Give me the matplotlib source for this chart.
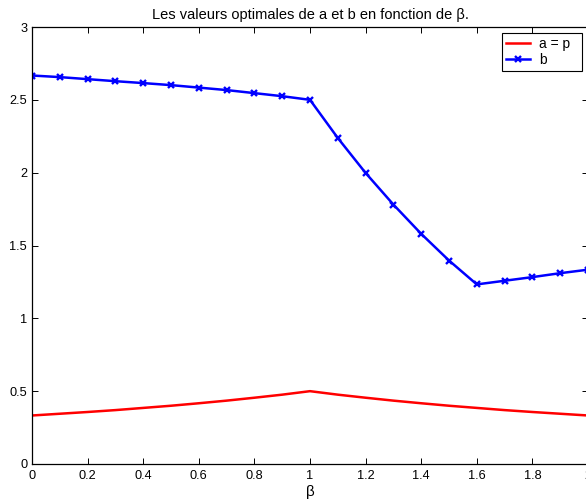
import numpy as np
import matplotlib
matplotlib.use("Agg")
import matplotlib.pyplot as plt

plt.rcParams['font.family'] = ['Liberation Sans', 'DejaVu Sans']

# beta sampled every 0.1 on [0, 2]
beta = [0.0, 0.1, 0.2, 0.3, 0.4, 0.5, 0.6, 0.7, 0.8, 0.9, 1.0,
        1.1, 1.2, 1.3, 1.4, 1.5, 1.6, 1.7, 1.8, 1.9, 2.0]

# optimal a (= p)
a_opt = [0.333, 0.345, 0.357, 0.370, 0.385, 0.400, 0.417, 0.435, 0.455, 0.476, 0.500,
         0.476, 0.455, 0.435, 0.417, 0.400, 0.385, 0.370, 0.357, 0.345, 0.333]

# optimal b
b_opt = [2.667, 2.656, 2.642, 2.628, 2.615, 2.601, 2.584, 2.567, 2.546, 2.525, 2.500,
         2.238, 1.998, 1.781, 1.580, 1.397, 1.233, 1.258, 1.283, 1.310, 1.334]

xticks = [0, 0.2, 0.4, 0.6, 0.8, 1, 1.2, 1.4, 1.6, 1.8, 2]
xticklabels = ['0', '0.2', '0.4', '0.6', '0.8', '1', '1.2', '1.4', '1.6', '1.8', '2']
yticks = [0, 0.5, 1, 1.5, 2, 2.5, 3]
yticklabels = ['0', '0.5', '1', '1.5', '2', '2.5', '3']

fig = plt.figure(figsize=(5.86, 5.04), dpi=100)
ax = fig.add_axes([32 / 586, 40 / 504, 556 / 586, 437 / 504])

ax.plot(beta, a_opt, color=(1, 0, 0), lw=1.8, label='a = p  ')
ax.plot(beta, b_opt, color=(0, 0, 1), lw=1.8, marker='x', ms=4.5, mew=1.7, label='b')

ax.set_xlim(0, 2)
ax.set_ylim(0, 3)
ax.set_xticks(xticks)
ax.set_xticklabels(xticklabels)
ax.set_yticks(yticks)
ax.set_yticklabels(yticklabels)
ax.tick_params(direction='in', length=4, width=0.7, labelsize=9.2,
               top=True, right=True)
ax.tick_params(axis='x', pad=4.5)
ax.tick_params(axis='y', pad=3.5)
for sp in ax.spines.values():
    sp.set_linewidth(0.9)

ax.set_xlabel('β', fontsize=11, labelpad=2)
ax.set_title('Les valeurs optimales de a et b en fonction de β.', fontsize=10.5, pad=6)

leg = ax.legend(loc='upper right', fontsize=10, fancybox=False, framealpha=1,
                edgecolor='black', borderaxespad=0.4, borderpad=0.3,
                handlelength=1.75, labelspacing=0.15, handletextpad=0.65)
leg.get_frame().set_linewidth(0.8)

fig.savefig('out.png', dpi=100)
